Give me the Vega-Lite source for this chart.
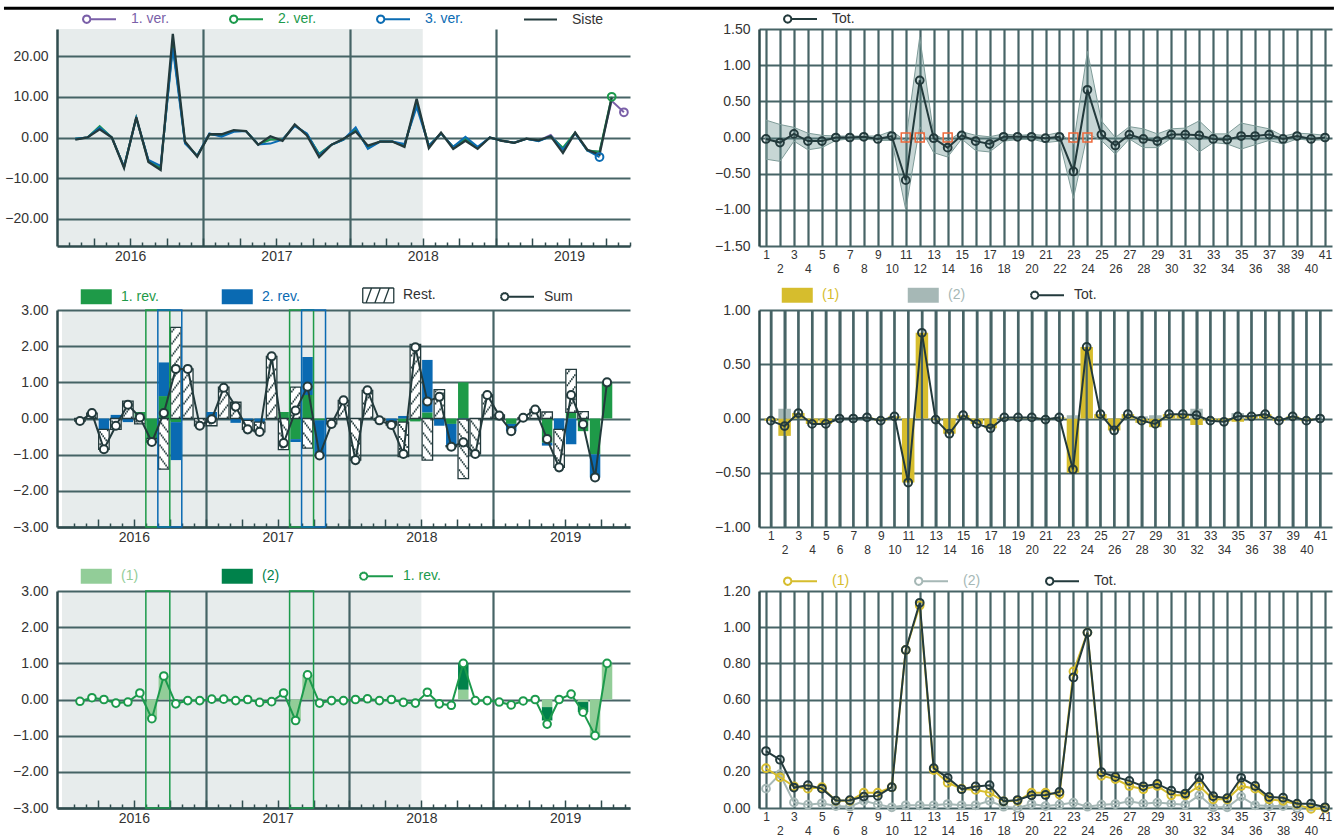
{
"$schema": "https://vega.github.io/schema/vega-lite/v6.json",
"padding": {"left": 2, "top": 6, "right": 0, "bottom": 0},
"autosize": {"type": "pad"},
"bounds": "flush",
"columns": 2,
"spacing": {"row": 64, "column": 129},
"resolve": {"scale": {"x": "independent", "y": "independent", "color": "independent"}},
"config": {
  "view": {"stroke": null},
  "font": "Liberation Sans",
  "axis": {"labelFont": "Liberation Sans", "labelFontSize": 14, "labelColor": "#333333", "gridColor": "#476466", "gridWidth": 2.2, "gridOpacity": 1, "domainColor": "#2f4b4d", "domainWidth": 2.5, "tickColor": "#2f4b4d"},
  "legend": {"labelFont": "Liberation Sans", "labelFontSize": 14, "labelColor": "#333333", "symbolStrokeWidth": 2}
},
"datasets": {
  "shade": [{"x0": 0.5, "x1": 30.5}],
  "hl": [{"x0": 7.5, "x1": 9.5, "k": "1. rev."}, {"x0": 8.5, "x1": 10.5, "k": "2. rev."}, {"x0": 19.5, "x1": 21.5, "k": "1. rev."}, {"x0": 20.5, "x1": 22.5, "k": "2. rev."}],
  "tl": [
    {"m":2,"v1":-0.3,"v2":-0.3,"v3":-0.3,"vs":-0.5},
    {"m":3,"v1":0,"v2":0,"v3":0,"vs":0},
    {"m":4,"v1":2.5,"v2":2.8,"v3":2.5,"vs":2.0},
    {"m":5,"v1":0,"v2":0,"v3":0,"vs":0},
    {"m":6,"v1":-7.2,"v2":-7.2,"v3":-7.2,"vs":-7.5},
    {"m":7,"v1":4.8,"v2":4.8,"v3":4.8,"vs":5.0},
    {"m":8,"v1":-5.8,"v2":-5.8,"v3":-5.5,"vs":-6.0},
    {"m":9,"v1":-7.5,"v2":-7.5,"v3":-7.0,"vs":-8.0},
    {"m":10,"v1":23,"v2":23,"v3":22,"vs":25.5},
    {"m":11,"v1":-1.2,"v2":-1.2,"v3":-1.5,"vs":-1.0},
    {"m":12,"v1":-4.5,"v2":-4.5,"v3":-4.5,"vs":-4.7},
    {"m":13,"v1":0.8,"v2":0.8,"v3":1.0,"vs":0.8},
    {"m":14,"v1":0.5,"v2":0.5,"v3":0.2,"vs":0.8},
    {"m":15,"v1":1.6,"v2":1.6,"v3":1.4,"vs":1.8},
    {"m":16,"v1":1.6,"v2":1.6,"v3":1.6,"vs":1.6},
    {"m":17,"v1":-1.7,"v2":-1.7,"v3":-1.7,"vs":-1.8},
    {"m":18,"v1":-0.5,"v2":-0.5,"v3":-1.5,"vs":0.3},
    {"m":19,"v1":-0.5,"v2":-0.5,"v3":-0.5,"vs":-0.8},
    {"m":20,"v1":3.0,"v2":3.0,"v3":2.8,"vs":3.2},
    {"m":21,"v1":0.8,"v2":0.8,"v3":1.0,"vs":0.5},
    {"m":22,"v1":-4.2,"v2":-4.0,"v3":-4.3,"vs":-4.8},
    {"m":23,"v1":-1.8,"v2":-1.8,"v3":-1.8,"vs":-1.8},
    {"m":24,"v1":-0.5,"v2":-0.5,"v3":-0.5,"vs":-0.3},
    {"m":25,"v1":2.0,"v2":2.0,"v3":2.5,"vs":1.5},
    {"m":26,"v1":-2.5,"v2":-2.5,"v3":-2.8,"vs":-2.0},
    {"m":27,"v1":-1.0,"v2":-1.0,"v3":-1.0,"vs":-1.0},
    {"m":28,"v1":-1.0,"v2":-1.0,"v3":-1.0,"vs":-1.0},
    {"m":29,"v1":-2.0,"v2":-2.0,"v3":-1.6,"vs":-2.3},
    {"m":30,"v1":8.5,"v2":8.5,"v3":7.5,"vs":9.5},
    {"m":31,"v1":-2.0,"v2":-2.0,"v3":-2.0,"vs":-2.6},
    {"m":32,"v1":1.0,"v2":1.0,"v3":1.0,"vs":1.2},
    {"m":33,"v1":-2.3,"v2":-2.3,"v3":-2.3,"vs":-2.8},
    {"m":34,"v1":-0.5,"v2":-0.3,"v3":0.2,"vs":-0.8},
    {"m":35,"v1":-2.5,"v2":-2.5,"v3":-2.3,"vs":-2.8},
    {"m":36,"v1":0,"v2":0,"v3":0,"vs":0},
    {"m":37,"v1":-0.8,"v2":-0.8,"v3":-0.8,"vs":-0.8},
    {"m":38,"v1":-1.3,"v2":-1.3,"v3":-1.3,"vs":-1.3},
    {"m":39,"v1":-0.3,"v2":-0.3,"v3":-0.3,"vs":-0.3},
    {"m":40,"v1":-0.8,"v2":-0.8,"v3":-0.9,"vs":-0.7},
    {"m":41,"v1":0.6,"v2":0.3,"v3":0.3,"vs":0.3},
    {"m":42,"v1":-2.8,"v2":-2.5,"v3":-3.0,"vs":-3.8},
    {"m":43,"v1":1.2,"v2":1.2,"v3":1.0,"vs":1.2},
    {"m":44,"v1":-3.2,"v2":-3.2,"v3":-3.2,"vs":-3.0},
    {"m":45,"v1":-3.5,"v2":-3.5,"v3":-4.8,"vs":-4.2},
    {"m":46,"v1":9.0,"v2":10.0,"v3":null,"vs":9.8},
    {"m":47,"v1":6.2,"v2":null,"v3":null,"vs":null}
  ],
  "ml": [
    {"m":2,"c":"Rest.","v":-0.07},
    {"m":3,"c":"Rest.","v":0.15},
    {"m":4,"c":"2. rev.","v":-0.3},{"m":4,"c":"Rest.","v":-0.55},
    {"m":5,"c":"2. rev.","v":0.1},{"m":5,"c":"Rest.","v":-0.3},
    {"m":6,"c":"2. rev.","v":-0.1},{"m":6,"c":"Rest.","v":0.48},
    {"m":7,"c":"1. rev.","v":0.18},{"m":7,"c":"Rest.","v":-0.15},
    {"m":8,"c":"1. rev.","v":-0.55},{"m":8,"c":"Rest.","v":-0.1},
    {"m":9,"c":"1. rev.","v":0.62},{"m":9,"c":"2. rev.","v":0.93},{"m":9,"c":"Rest.","v":-1.4},
    {"m":10,"c":"1. rev.","v":-0.1},{"m":10,"c":"2. rev.","v":-1.05},{"m":10,"c":"Rest.","v":2.52},
    {"m":11,"c":"Rest.","v":1.37},
    {"m":12,"c":"Rest.","v":-0.2},
    {"m":13,"c":"2. rev.","v":0.18},{"m":13,"c":"Rest.","v":-0.2},
    {"m":14,"c":"2. rev.","v":-0.02},{"m":14,"c":"Rest.","v":0.87},
    {"m":15,"c":"2. rev.","v":-0.12},{"m":15,"c":"Rest.","v":0.45},
    {"m":16,"c":"2. rev.","v":-0.05},{"m":16,"c":"Rest.","v":-0.25},
    {"m":17,"c":"2. rev.","v":-0.1},{"m":17,"c":"Rest.","v":-0.27},
    {"m":18,"c":"Rest.","v":1.72},
    {"m":19,"c":"1. rev.","v":0.18},{"m":19,"c":"Rest.","v":-0.86},
    {"m":20,"c":"1. rev.","v":-0.57},{"m":20,"c":"2. rev.","v":-0.08},{"m":20,"c":"Rest.","v":0.87},
    {"m":21,"c":"1. rev.","v":0.65},{"m":21,"c":"2. rev.","v":1.05},{"m":21,"c":"Rest.","v":-0.82},
    {"m":22,"c":"1. rev.","v":-0.05},{"m":22,"c":"2. rev.","v":-0.97},
    {"m":23,"c":"Rest.","v":-0.15},
    {"m":24,"c":"Rest.","v":0.5},
    {"m":25,"c":"Rest.","v":-1.15},
    {"m":26,"c":"Rest.","v":0.78},
    {"m":27,"c":"Rest.","v":-0.05},
    {"m":28,"c":"2. rev.","v":-0.08},{"m":28,"c":"Rest.","v":-0.1},
    {"m":29,"c":"1. rev.","v":-0.1},{"m":29,"c":"2. rev.","v":0.07},{"m":29,"c":"Rest.","v":-0.95},
    {"m":30,"c":"1. rev.","v":-0.08},{"m":30,"c":"Rest.","v":2.05},
    {"m":31,"c":"1. rev.","v":0.17},{"m":31,"c":"2. rev.","v":1.45},{"m":31,"c":"Rest.","v":-1.15},
    {"m":32,"c":"2. rev.","v":-0.2},{"m":32,"c":"Rest.","v":0.8},
    {"m":33,"c":"1. rev.","v":-0.15},{"m":33,"c":"2. rev.","v":-0.6},{"m":33,"c":"Rest.","v":-0.03},
    {"m":34,"c":"1. rev.","v":1.0},{"m":34,"c":"2. rev.","v":-0.02},{"m":34,"c":"Rest.","v":-1.64},
    {"m":35,"c":"Rest.","v":-0.98},
    {"m":36,"c":"Rest.","v":0.65},
    {"m":37,"c":"1. rev.","v":-0.02},{"m":37,"c":"Rest.","v":0.1},
    {"m":38,"c":"1. rev.","v":-0.15},{"m":38,"c":"2. rev.","v":-0.2},
    {"m":39,"c":"Rest.","v":0.02},
    {"m":40,"c":"Rest.","v":0.25},
    {"m":41,"c":"1. rev.","v":-0.67},{"m":41,"c":"2. rev.","v":-0.08},{"m":41,"c":"Rest.","v":0.18},
    {"m":42,"c":"2. rev.","v":-0.3},{"m":42,"c":"Rest.","v":-1.05},
    {"m":43,"c":"1. rev.","v":0.17},{"m":43,"c":"2. rev.","v":-0.71},{"m":43,"c":"Rest.","v":1.19},
    {"m":44,"c":"1. rev.","v":-0.35},{"m":44,"c":"Rest.","v":0.19},
    {"m":45,"c":"1. rev.","v":-0.99},{"m":45,"c":"2. rev.","v":-0.64},
    {"m":46,"c":"1. rev.","v":1.0}
  ],
  "mlsum": [
    {"m":2,"v":-0.07},{"m":3,"v":0.15},{"m":4,"v":-0.85},{"m":5,"v":-0.2},{"m":6,"v":0.38},
    {"m":7,"v":0.03},{"m":8,"v":-0.65},{"m":9,"v":0.15},{"m":10,"v":1.37},{"m":11,"v":1.37},
    {"m":12,"v":-0.2},{"m":13,"v":-0.02},{"m":14,"v":0.85},{"m":15,"v":0.33},{"m":16,"v":-0.3},
    {"m":17,"v":-0.37},{"m":18,"v":1.72},{"m":19,"v":-0.68},{"m":20,"v":0.22},{"m":21,"v":0.88},
    {"m":22,"v":-1.02},{"m":23,"v":-0.15},{"m":24,"v":0.5},{"m":25,"v":-1.15},{"m":26,"v":0.78},
    {"m":27,"v":-0.05},{"m":28,"v":-0.18},{"m":29,"v":-0.98},{"m":30,"v":1.97},{"m":31,"v":0.47},
    {"m":32,"v":0.6},{"m":33,"v":-0.78},{"m":34,"v":-0.66},{"m":35,"v":-0.98},{"m":36,"v":0.65},
    {"m":37,"v":0.08},{"m":38,"v":-0.35},{"m":39,"v":0.02},{"m":40,"v":0.25},{"m":41,"v":-0.57},
    {"m":42,"v":-1.35},{"m":43,"v":0.65},{"m":44,"v":-0.16},{"m":45,"v":-1.63},{"m":46,"v":1.0}
  ],
  "bl": [
    {"m":2,"v":-0.05},{"m":3,"v":0.05},{"m":4,"v":0.0},{"m":5,"v":-0.1},{"m":6,"v":-0.07},
    {"m":7,"v":0.18},{"m":8,"v":-0.53},{"m":9,"v":0.65},{"m":10,"v":-0.12},{"m":11,"v":-0.03},
    {"m":12,"v":-0.03},{"m":13,"v":0.01},{"m":14,"v":0.01},{"m":15,"v":-0.03},{"m":16,"v":0.0},
    {"m":17,"v":-0.08},{"m":18,"v":-0.06},{"m":19,"v":0.18},{"m":20,"v":-0.58},{"m":21,"v":0.68},
    {"m":22,"v":-0.1},{"m":23,"v":-0.03},{"m":24,"v":-0.03},{"m":25,"v":0.0},{"m":26,"v":0.02},
    {"m":27,"v":-0.03},{"m":28,"v":0.0},{"m":29,"v":-0.08},{"m":30,"v":-0.1},{"m":31,"v":0.2},
    {"m":32,"v":-0.12},{"m":33,"v":-0.16},{"m":34,"v":1.0},{"m":35,"v":-0.03},{"m":36,"v":-0.03},
    {"m":37,"v":-0.07},{"m":38,"v":-0.15},{"m":39,"v":-0.04},{"m":40,"v":0.0},{"m":41,"v":-0.68},
    {"m":42,"v":0.0},{"m":43,"v":0.15},{"m":44,"v":-0.35},{"m":45,"v":-1.0},{"m":46,"v":1.0}
  ],
  "blb": [
    {"m":8,"c":"(1)","v":-0.53},{"m":9,"c":"(1)","v":0.65},
    {"m":20,"c":"(1)","v":-0.58},{"m":21,"c":"(1)","v":0.68},
    {"m":34,"c":"(1)","v":0.27},{"m":34,"c":"(2)","v":0.73},
    {"m":41,"c":"(1)","v":-0.21},{"m":41,"c":"(2)","v":-0.37},
    {"m":44,"c":"(1)","v":-0.07},{"m":44,"c":"(2)","v":-0.28},
    {"m":45,"c":"(1)","v":-1.0},{"m":46,"c":"(1)","v":1.0}
  ],
  "rt": [
    {"p":1,"tot":-0.02,"lo":-0.30,"hi":0.24},
    {"p":2,"tot":-0.07,"lo":-0.33,"hi":0.18},
    {"p":3,"tot":0.05,"lo":-0.05,"hi":0.14},
    {"p":4,"tot":-0.05,"lo":-0.17,"hi":0.06},
    {"p":5,"tot":-0.05,"lo":-0.14,"hi":0.03},
    {"p":6,"tot":0.0,"lo":-0.04,"hi":0.02},
    {"p":7,"tot":0.0,"lo":-0.02,"hi":0.02},
    {"p":8,"tot":0.01,"lo":-0.02,"hi":0.02},
    {"p":9,"tot":-0.02,"lo":-0.04,"hi":0.02},
    {"p":10,"tot":0.02,"lo":-0.04,"hi":0.09},
    {"p":11,"tot":-0.59,"lo":-1.0,"hi":-0.05,"q":1},
    {"p":12,"tot":0.79,"lo":0.15,"hi":1.39,"q":1},
    {"p":13,"tot":-0.01,"lo":-0.21,"hi":0.05},
    {"p":14,"tot":-0.14,"lo":-0.27,"hi":-0.05,"q":1},
    {"p":15,"tot":0.03,"lo":-0.02,"hi":0.08},
    {"p":16,"tot":-0.05,"lo":-0.18,"hi":0.03},
    {"p":17,"tot":-0.09,"lo":-0.20,"hi":0.01},
    {"p":18,"tot":0.01,"lo":-0.05,"hi":0.05},
    {"p":19,"tot":0.01,"lo":-0.03,"hi":0.03},
    {"p":20,"tot":0.01,"lo":-0.02,"hi":0.04},
    {"p":21,"tot":-0.01,"lo":-0.07,"hi":0.03},
    {"p":22,"tot":0.01,"lo":-0.05,"hi":0.07},
    {"p":23,"tot":-0.47,"lo":-0.84,"hi":-0.09,"q":1},
    {"p":24,"tot":0.66,"lo":0.05,"hi":1.19,"q":1},
    {"p":25,"tot":0.04,"lo":-0.04,"hi":0.23},
    {"p":26,"tot":-0.11,"lo":-0.23,"hi":0.0},
    {"p":27,"tot":0.04,"lo":-0.02,"hi":0.15},
    {"p":28,"tot":-0.02,"lo":-0.14,"hi":0.12},
    {"p":29,"tot":-0.05,"lo":-0.14,"hi":0.05},
    {"p":30,"tot":0.04,"lo":-0.01,"hi":0.12},
    {"p":31,"tot":0.04,"lo":-0.04,"hi":0.13},
    {"p":32,"tot":0.03,"lo":-0.20,"hi":0.23},
    {"p":33,"tot":-0.02,"lo":-0.07,"hi":0.05},
    {"p":34,"tot":-0.03,"lo":-0.09,"hi":0.05},
    {"p":35,"tot":0.02,"lo":-0.16,"hi":0.20},
    {"p":36,"tot":0.02,"lo":-0.10,"hi":0.16},
    {"p":37,"tot":0.04,"lo":-0.04,"hi":0.12},
    {"p":38,"tot":-0.02,"lo":-0.09,"hi":0.02},
    {"p":39,"tot":0.02,"lo":-0.02,"hi":0.06},
    {"p":40,"tot":-0.02,"lo":-0.04,"hi":0.05},
    {"p":41,"tot":0.0,"lo":-0.03,"hi":0.03}
  ],
  "rm": [
    {"p":1,"c":"(1)","v":-0.02},{"p":2,"c":"(1)","v":-0.16},{"p":2,"c":"(2)","v":0.09},
    {"p":3,"c":"(1)","v":0.05},{"p":4,"c":"(1)","v":-0.05},{"p":5,"c":"(1)","v":-0.05},
    {"p":8,"c":"(1)","v":0.01},{"p":9,"c":"(1)","v":-0.02},{"p":10,"c":"(1)","v":0.02},
    {"p":11,"c":"(1)","v":-0.59},{"p":12,"c":"(1)","v":0.79},{"p":13,"c":"(1)","v":-0.01},
    {"p":14,"c":"(1)","v":-0.14},{"p":15,"c":"(1)","v":0.03},{"p":16,"c":"(1)","v":-0.05},
    {"p":17,"c":"(1)","v":-0.09},{"p":18,"c":"(1)","v":0.01},{"p":19,"c":"(1)","v":0.01},
    {"p":20,"c":"(1)","v":0.01},{"p":21,"c":"(1)","v":-0.01},{"p":22,"c":"(1)","v":0.01},
    {"p":23,"c":"(1)","v":-0.5},{"p":23,"c":"(2)","v":0.03},{"p":24,"c":"(1)","v":0.66},
    {"p":25,"c":"(1)","v":0.04},{"p":26,"c":"(1)","v":-0.11},{"p":27,"c":"(1)","v":0.04},
    {"p":28,"c":"(1)","v":-0.04},{"p":28,"c":"(2)","v":0.02},{"p":29,"c":"(1)","v":-0.08},
    {"p":29,"c":"(2)","v":0.03},{"p":30,"c":"(1)","v":0.04},{"p":31,"c":"(1)","v":0.04},
    {"p":32,"c":"(1)","v":-0.06},{"p":32,"c":"(2)","v":0.09},{"p":33,"c":"(1)","v":-0.02},
    {"p":34,"c":"(1)","v":-0.03},{"p":35,"c":"(1)","v":-0.03},{"p":35,"c":"(2)","v":0.05},
    {"p":36,"c":"(1)","v":0.02},{"p":37,"c":"(1)","v":0.04},{"p":38,"c":"(1)","v":-0.02},
    {"p":39,"c":"(1)","v":0.02},{"p":40,"c":"(1)","v":-0.02}
  ],
  "rb": [
    {"p":1,"a":0.22,"b":0.107,"tot":0.315},
    {"p":2,"a":0.17,"b":0.187,"tot":0.267},
    {"p":3,"a":0.12,"b":0.031,"tot":0.113},
    {"p":4,"a":0.107,"b":0.018,"tot":0.126},
    {"p":5,"a":0.115,"b":0.026,"tot":0.107},
    {"p":6,"a":0.04,"b":0.011,"tot":0.041},
    {"p":7,"a":0.04,"b":0.007,"tot":0.043},
    {"p":8,"a":0.085,"b":0.04,"tot":0.063},
    {"p":9,"a":0.085,"b":0.02,"tot":0.067},
    {"p":10,"a":0.115,"b":0.004,"tot":0.115},
    {"p":11,"a":0.874,"b":0.015,"tot":0.874},
    {"p":12,"a":1.12,"b":0.015,"tot":1.135},
    {"p":13,"a":0.21,"b":0.015,"tot":0.22},
    {"p":14,"a":0.14,"b":0.022,"tot":0.167},
    {"p":15,"a":0.107,"b":0.015,"tot":0.104},
    {"p":16,"a":0.1,"b":0.015,"tot":0.119},
    {"p":17,"a":0.085,"b":0.04,"tot":0.126},
    {"p":18,"a":0.037,"b":0.007,"tot":0.037},
    {"p":19,"a":0.04,"b":0.0,"tot":0.044},
    {"p":20,"a":0.085,"b":0.022,"tot":0.07},
    {"p":21,"a":0.085,"b":0.011,"tot":0.072},
    {"p":22,"a":0.074,"b":0.018,"tot":0.089},
    {"p":23,"a":0.755,"b":0.03,"tot":0.722},
    {"p":24,"a":0.97,"b":0.007,"tot":0.97},
    {"p":25,"a":0.178,"b":0.018,"tot":0.198},
    {"p":26,"a":0.16,"b":0.022,"tot":0.172},
    {"p":27,"a":0.122,"b":0.037,"tot":0.15},
    {"p":28,"a":0.104,"b":0.024,"tot":0.12},
    {"p":29,"a":0.122,"b":0.03,"tot":0.133},
    {"p":30,"a":0.07,"b":0.024,"tot":0.096},
    {"p":31,"a":0.07,"b":0.018,"tot":0.08},
    {"p":32,"a":0.122,"b":0.07,"tot":0.17},
    {"p":33,"a":0.048,"b":0.004,"tot":0.065},
    {"p":34,"a":0.048,"b":0.004,"tot":0.054},
    {"p":35,"a":0.122,"b":0.063,"tot":0.167},
    {"p":36,"a":0.107,"b":0.015,"tot":0.122},
    {"p":37,"a":0.048,"b":0.011,"tot":0.061},
    {"p":38,"a":0.04,"b":0.011,"tot":0.057},
    {"p":39,"a":0.02,"b":0.0,"tot":0.024},
    {"p":40,"a":-0.005,"b":0.007,"tot":0.024},
    {"p":41,"a":0.0,"b":0.0,"tot":0.004}
  ]
},
"concat": [
  {
    "width": 573, "height": 217,
    "layer": [
      {"data": {"name": "shade"}, "mark": {"type": "rect", "fill": "#3a6660", "opacity": 0.12},
       "encoding": {
         "x": {"field": "x0", "type": "quantitative", "scale": {"domain": [0.5, 47.5], "nice": false, "zero": false},
               "axis": {"values": [1.5,2.5,3.5,4.5,5.5,6.5,7.5,8.5,9.5,10.5,11.5,12.5,13.5,14.5,15.5,16.5,17.5,18.5,19.5,20.5,21.5,22.5,23.5,24.5,25.5,26.5,27.5,28.5,29.5,30.5,31.5,32.5,33.5,34.5,35.5,36.5,37.5,38.5,39.5,40.5,41.5,42.5,43.5,44.5,45.5,46.5,47.5],
                        "tickCount": 100, "title": null, "grid": true,
                        "gridOpacity": {"condition": {"test": "(datum.value - 0.5) % 12 === 0", "value": 1}, "value": 0},
                        "ticks": true, "tickWidth": 1.5, "tickColor": "#2f4b4d",
                        "tickSize": {"condition": {"test": "(datum.value - 0.5) % 3 === 0", "value": -8}, "value": -4},
                        "labelExpr": "(datum.value - 0.5) % 12 === 6 ? '' + (2016 + (datum.value - 6.5) / 12) : ''",
                        "labelPadding": 11, "labelOverlap": false, "labelFlush": false, "domain": true}},
         "x2": {"field": "x1"}}},
      {"data": {"values": [{}]}, "mark": {"type": "rule", "color": "#000000", "strokeWidth": 3},
       "encoding": {"x": {"datum": -3.85, "type": "quantitative"}, "x2": {"datum": 105.24}, "y": {"datum": 31.76, "type": "quantitative"}}},
      {"data": {"name": "tl"}, "mark": {"type": "line", "strokeWidth": 2},
       "encoding": {
         "x": {"field": "m", "type": "quantitative"},
         "y": {"field": "v1", "type": "quantitative", "scale": {"domain": [-26.67, 26.67], "nice": false, "zero": false},
               "axis": {"values": [-20, -10, 0, 10, 20], "tickCount": 100, "format": ".2f", "title": null, "grid": true, "ticks": false, "tickSize": 0, "labelPadding": 9, "labelOverlap": false, "domain": true}},
         "color": {"datum": "1. ver.", "scale": {"domain": ["1. ver.", "2. ver.", "3. ver.", "Siste"], "range": ["#7a5fa8", "#1c9a4c", "#0b6cb3", "#233a3c"]},
                   "legend": {"orient": "none", "legendX": 25, "legendY": -22, "direction": "horizontal", "title": null, "symbolSize": 484, "labelOffset": 25, "columnPadding": 56, "gridAlign": "all",
                              "encode": {
                                "symbols": {"update": {
                                  "shape": {"signal": "datum.value === 'Siste' ? 'M-1,0L2,0' : 'M-0.328,0L-0.373,0.168L-0.496,0.291L-0.664,0.336L-0.832,0.291L-0.955,0.168L-1,0L-0.955,-0.168L-0.832,-0.291L-0.664,-0.336L-0.496,-0.291L-0.373,-0.168ZM-0.328,0L2,0'"},
                                  "strokeWidth": {"value": 2}, "size": {"value": 484}, "opacity": {"value": 1}}},
                                "labels": {"update": {"fill": {"signal": "datum.value === '1. ver.' ? '#7a5fa8' : datum.value === '2. ver.' ? '#1c9a4c' : datum.value === '3. ver.' ? '#0b6cb3' : '#333333'"}}}}}}}},
      {"data": {"name": "tl"}, "mark": {"type": "line", "strokeWidth": 2},
       "encoding": {"x": {"field": "m", "type": "quantitative"}, "y": {"field": "v2", "type": "quantitative"}, "color": {"datum": "2. ver."}}},
      {"data": {"name": "tl"}, "mark": {"type": "line", "strokeWidth": 2},
       "encoding": {"x": {"field": "m", "type": "quantitative"}, "y": {"field": "v3", "type": "quantitative"}, "color": {"datum": "3. ver."}}},
      {"data": {"name": "tl"}, "mark": {"type": "line", "strokeWidth": 2.3},
       "encoding": {"x": {"field": "m", "type": "quantitative"}, "y": {"field": "vs", "type": "quantitative"}, "color": {"datum": "Siste"}}},
      {"data": {"name": "tl"}, "transform": [{"filter": "datum.m === 47"}], "mark": {"type": "point", "filled": false, "strokeWidth": 2, "size": 60, "opacity": 1},
       "encoding": {"x": {"field": "m", "type": "quantitative"}, "y": {"field": "v1", "type": "quantitative"}, "color": {"datum": "1. ver."}}},
      {"data": {"name": "tl"}, "transform": [{"filter": "datum.m === 46"}], "mark": {"type": "point", "filled": false, "strokeWidth": 2, "size": 60, "opacity": 1},
       "encoding": {"x": {"field": "m", "type": "quantitative"}, "y": {"field": "v2", "type": "quantitative"}, "color": {"datum": "2. ver."}}},
      {"data": {"name": "tl"}, "transform": [{"filter": "datum.m === 45"}], "mark": {"type": "point", "filled": false, "strokeWidth": 2, "size": 60, "opacity": 1},
       "encoding": {"x": {"field": "m", "type": "quantitative"}, "y": {"field": "v3", "type": "quantitative"}, "color": {"datum": "3. ver."}}}
    ]
  },
  {
    "width": 573, "height": 217,
    "data": {"name": "rt"},
    "layer": [
      {"mark": {"type": "area", "fill": "#5f8a86", "fillOpacity": 0.35, "stroke": "#7f9c99", "strokeWidth": 1},
       "encoding": {
         "x": {"field": "p", "type": "quantitative", "scale": {"domain": [0.5, 41.5], "nice": false, "zero": false},
               "axis": {"values": [1,2,3,4,5,6,7,8,9,10,11,12,13,14,15,16,17,18,19,20,21,22,23,24,25,26,27,28,29,30,31,32,33,34,35,36,37,38,39,40,41],
                        "tickCount": 100, "format": "d", "title": null, "grid": true, "ticks": false, "tickSize": 0, "labelFontSize": 12,
                        "labelPadding": {"condition": {"test": "datum.value % 2 === 0", "value": 17}, "value": 3},
                        "labelOverlap": false, "labelFlush": false, "domain": false}},
         "y": {"field": "lo", "type": "quantitative", "scale": {"domain": [-1.5, 1.5], "nice": false, "zero": false},
               "axis": {"values": [-1.5, -1, -0.5, 0, 0.5, 1, 1.5], "tickCount": 100, "format": ".2f", "title": null, "grid": true, "ticks": false, "tickSize": 0, "labelPadding": 9, "labelOverlap": false, "domain": true}},
         "y2": {"field": "hi"}}},
      {"transform": [{"filter": "datum.q === 1"}], "mark": {"type": "point", "shape": "square", "filled": false, "stroke": "#f0683a", "strokeWidth": 1.5, "size": 80, "opacity": 1},
       "encoding": {"x": {"field": "p", "type": "quantitative"}, "y": {"datum": 0, "type": "quantitative"}}},
      {"mark": {"type": "line", "strokeWidth": 2},
       "encoding": {"x": {"field": "p", "type": "quantitative"}, "y": {"field": "tot", "type": "quantitative"},
         "color": {"datum": "Tot.", "scale": {"domain": ["Tot."], "range": ["#233a3c"]},
                   "legend": {"orient": "none", "legendX": 24, "legendY": -22, "direction": "horizontal", "title": null, "symbolSize": 484, "labelOffset": 25, "columnPadding": 56, "gridAlign": "all",
                              "encode": {
                                "symbols": {"update": {
                                  "shape": {"value": "M-0.328,0L-0.373,0.168L-0.496,0.291L-0.664,0.336L-0.832,0.291L-0.955,0.168L-1,0L-0.955,-0.168L-0.832,-0.291L-0.664,-0.336L-0.496,-0.291L-0.373,-0.168ZM-0.328,0L2,0"},
                                  "strokeWidth": {"value": 2}, "size": {"value": 484}, "opacity": {"value": 1}}},
                                "labels": {"update": {"fill": {"value": "#333333"}}}}}}}},
      {"mark": {"type": "point", "filled": false, "stroke": "#233a3c", "strokeWidth": 2, "size": 60, "opacity": 1},
       "encoding": {"x": {"field": "p", "type": "quantitative"}, "y": {"field": "tot", "type": "quantitative"}}}
    ]
  },
  {
    "width": 573, "height": 217,
    "layer": [
      {"data": {"name": "shade"}, "mark": {"type": "rect", "fill": "#3a6660", "opacity": 0.12},
       "encoding": {
         "x": {"field": "x0", "type": "quantitative", "scale": {"domain": [0.5, 47.5], "nice": false, "zero": false},
               "axis": {"values": [1.5,2.5,3.5,4.5,5.5,6.5,7.5,8.5,9.5,10.5,11.5,12.5,13.5,14.5,15.5,16.5,17.5,18.5,19.5,20.5,21.5,22.5,23.5,24.5,25.5,26.5,27.5,28.5,29.5,30.5,31.5,32.5,33.5,34.5,35.5,36.5,37.5,38.5,39.5,40.5,41.5,42.5,43.5,44.5,45.5,46.5,47.5],
                        "tickCount": 100, "title": null, "grid": true,
                        "gridOpacity": {"condition": {"test": "(datum.value - 0.5) % 12 === 0", "value": 1}, "value": 0},
                        "ticks": true, "tickWidth": 1.5, "tickColor": "#2f4b4d",
                        "tickSize": {"condition": {"test": "(datum.value - 0.5) % 3 === 0", "value": -8}, "value": -4},
                        "labelExpr": "(datum.value - 0.5) % 12 === 6 ? '' + (2016 + (datum.value - 6.5) / 12) : ''",
                        "labelPadding": 11, "labelOverlap": false, "labelFlush": false, "domain": true}},
         "x2": {"field": "x1"}}},
      {"data": {"name": "ml"},
       "transform": [{"stack": "v", "groupby": ["m"], "sort": [{"field": "c", "order": "ascending"}], "as": ["y0", "y1"], "offset": "zero"}, {"filter": "datum.c !== 'Rest.'"}],
       "mark": {"type": "bar", "width": 10.5},
       "encoding": {
         "x": {"field": "m", "type": "quantitative"},
         "y": {"field": "y0", "type": "quantitative", "scale": {"domain": [-3, 3], "nice": false, "zero": false},
               "axis": {"values": [-3, -2, -1, 0, 1, 2, 3], "tickCount": 100, "format": ".2f", "title": null, "grid": true, "ticks": false, "tickSize": 0, "labelPadding": 9, "labelOverlap": false, "domain": true}},
         "y2": {"field": "y1"},
         "color": {"field": "c", "type": "nominal", "scale": {"domain": ["1. rev.", "2. rev.", "Rest.", "Sum"], "range": ["#1e9a48", "#0a6ab2", "#233a3c", "#233a3c"]},
                   "legend": {"orient": "none", "legendX": 25, "legendY": -22, "direction": "horizontal", "title": null, "symbolSize": 484, "labelOffset": 25, "columnPadding": 56, "gridAlign": "all",
                              "encode": {
                                "symbols": {"update": {
                                  "shape": {"signal": "datum.value === 'Sum' ? 'M-0.328,0L-0.373,0.168M-0.373,0.168L-0.496,0.291M-0.496,0.291L-0.664,0.336M-0.664,0.336L-0.832,0.291M-0.832,0.291L-0.955,0.168M-0.955,0.168L-1,0M-1,0L-0.955,-0.168M-0.955,-0.168L-0.832,-0.291M-0.832,-0.291L-0.664,-0.336M-0.664,-0.336L-0.496,-0.291M-0.496,-0.291L-0.373,-0.168M-0.373,-0.168L-0.328,0M-0.328,0L2,0' : datum.value === 'Rest.' ? 'M-0.75,-0.68L2.07,-0.68M2.07,-0.68L2.07,0.68M2.07,0.68L-0.75,0.68M-0.75,0.68L-0.75,-0.68M-0.45,0.68L0.05,-0.68M0.35,0.68L0.85,-0.68M1.15,0.68L1.65,-0.68' : 'M-0.75,-0.68L2.07,-0.68L2.07,0.68L-0.75,0.68Z'"},
                                  "strokeWidth": {"signal": "datum.value === 'Rest.' ? 1.3 : datum.value === 'Sum' ? 2 : 0"},
                                  "size": {"value": 484}, "opacity": {"value": 1}}},
                                "labels": {"update": {"fill": {"signal": "datum.value === '1. rev.' ? '#1e9a48' : datum.value === '2. rev.' ? '#0a6ab2' : '#333333'"}}}}}}}},
      {"data": {"name": "ml"},
       "transform": [{"stack": "v", "groupby": ["m"], "sort": [{"field": "c", "order": "ascending"}], "as": ["y0", "y1"], "offset": "zero"}, {"filter": "datum.c === 'Rest.'"}],
       "mark": {"type": "bar", "width": 10.5, "fill": "#ffffff", "stroke": "#233a3c", "strokeWidth": 1.3},
       "encoding": {"x": {"field": "m", "type": "quantitative"}, "y": {"field": "y0", "type": "quantitative"}, "y2": {"field": "y1"}}},
      {"data": {"name": "ml"},
       "transform": [{"stack": "v", "groupby": ["m"], "sort": [{"field": "c", "order": "ascending"}], "as": ["y0", "y1"], "offset": "zero"}, {"filter": "datum.c === 'Rest.'"}],
       "mark": {"type": "rule", "color": "#233a3c", "strokeWidth": 1.5, "strokeDash": [2, 10], "strokeDashOffset": 10, "xOffset": -3.75},
       "encoding": {"x": {"field": "m", "type": "quantitative"}, "y": {"field": "y0", "type": "quantitative"}, "y2": {"field": "y1"}}},
      {"data": {"name": "ml"},
       "transform": [{"stack": "v", "groupby": ["m"], "sort": [{"field": "c", "order": "ascending"}], "as": ["y0", "y1"], "offset": "zero"}, {"filter": "datum.c === 'Rest.'"}],
       "mark": {"type": "rule", "color": "#233a3c", "strokeWidth": 1.5, "strokeDash": [2, 10], "strokeDashOffset": 8, "xOffset": -2.25},
       "encoding": {"x": {"field": "m", "type": "quantitative"}, "y": {"field": "y0", "type": "quantitative"}, "y2": {"field": "y1"}}},
      {"data": {"name": "ml"},
       "transform": [{"stack": "v", "groupby": ["m"], "sort": [{"field": "c", "order": "ascending"}], "as": ["y0", "y1"], "offset": "zero"}, {"filter": "datum.c === 'Rest.'"}],
       "mark": {"type": "rule", "color": "#233a3c", "strokeWidth": 1.5, "strokeDash": [2, 10], "strokeDashOffset": 6, "xOffset": -0.75},
       "encoding": {"x": {"field": "m", "type": "quantitative"}, "y": {"field": "y0", "type": "quantitative"}, "y2": {"field": "y1"}}},
      {"data": {"name": "ml"},
       "transform": [{"stack": "v", "groupby": ["m"], "sort": [{"field": "c", "order": "ascending"}], "as": ["y0", "y1"], "offset": "zero"}, {"filter": "datum.c === 'Rest.'"}],
       "mark": {"type": "rule", "color": "#233a3c", "strokeWidth": 1.5, "strokeDash": [2, 10], "strokeDashOffset": 4, "xOffset": 0.75},
       "encoding": {"x": {"field": "m", "type": "quantitative"}, "y": {"field": "y0", "type": "quantitative"}, "y2": {"field": "y1"}}},
      {"data": {"name": "ml"},
       "transform": [{"stack": "v", "groupby": ["m"], "sort": [{"field": "c", "order": "ascending"}], "as": ["y0", "y1"], "offset": "zero"}, {"filter": "datum.c === 'Rest.'"}],
       "mark": {"type": "rule", "color": "#233a3c", "strokeWidth": 1.5, "strokeDash": [2, 10], "strokeDashOffset": 2, "xOffset": 2.25},
       "encoding": {"x": {"field": "m", "type": "quantitative"}, "y": {"field": "y0", "type": "quantitative"}, "y2": {"field": "y1"}}},
      {"data": {"name": "ml"},
       "transform": [{"stack": "v", "groupby": ["m"], "sort": [{"field": "c", "order": "ascending"}], "as": ["y0", "y1"], "offset": "zero"}, {"filter": "datum.c === 'Rest.'"}],
       "mark": {"type": "rule", "color": "#233a3c", "strokeWidth": 1.5, "strokeDash": [2, 10], "strokeDashOffset": 0, "xOffset": 3.75},
       "encoding": {"x": {"field": "m", "type": "quantitative"}, "y": {"field": "y0", "type": "quantitative"}, "y2": {"field": "y1"}}},
      {"data": {"name": "hl"}, "mark": {"type": "rect", "filled": false, "strokeWidth": 1.5},
       "encoding": {"x": {"field": "x0", "type": "quantitative"}, "x2": {"field": "x1"}, "color": {"field": "k", "type": "nominal"}}},
      {"data": {"name": "mlsum"}, "mark": {"type": "line", "strokeWidth": 2},
       "encoding": {"x": {"field": "m", "type": "quantitative"}, "y": {"field": "v", "type": "quantitative"}, "color": {"datum": "Sum"}}},
      {"data": {"name": "mlsum"}, "mark": {"type": "point", "filled": true, "fill": "#ffffff", "stroke": "#233a3c", "strokeWidth": 2, "size": 66, "opacity": 1},
       "encoding": {"x": {"field": "m", "type": "quantitative"}, "y": {"field": "v", "type": "quantitative"}}}
    ]
  },
  {
    "width": 573, "height": 217,
    "layer": [
      {"data": {"name": "rm"},
       "transform": [{"stack": "v", "groupby": ["p"], "sort": [{"field": "c", "order": "ascending"}], "as": ["y0", "y1"], "offset": "zero"}],
       "mark": {"type": "bar", "width": 12.5},
       "encoding": {
         "x": {"field": "p", "type": "quantitative", "scale": {"domain": [0.5, 41.5], "nice": false, "zero": false},
               "axis": {"values": [1,2,3,4,5,6,7,8,9,10,11,12,13,14,15,16,17,18,19,20,21,22,23,24,25,26,27,28,29,30,31,32,33,34,35,36,37,38,39,40,41],
                        "tickCount": 100, "format": "d", "title": null, "grid": true, "ticks": false, "tickSize": 0, "labelFontSize": 12,
                        "labelPadding": {"condition": {"test": "datum.value % 2 === 0", "value": 17}, "value": 3},
                        "labelOverlap": false, "labelFlush": false, "domain": false}},
         "y": {"field": "y0", "type": "quantitative", "scale": {"domain": [-1, 1], "nice": false, "zero": false},
               "axis": {"values": [-1, -0.5, 0, 0.5, 1], "tickCount": 100, "format": ".2f", "title": null, "grid": true, "ticks": false, "tickSize": 0, "labelPadding": 9, "labelOverlap": false, "domain": true}},
         "y2": {"field": "y1"},
         "color": {"field": "c", "type": "nominal", "scale": {"domain": ["(1)", "(2)", "Tot."], "range": ["#d6bd2d", "#a6b8b6", "#233a3c"]},
                   "legend": {"orient": "none", "legendX": 24, "legendY": -22, "direction": "horizontal", "title": null, "symbolSize": 484, "labelOffset": 25, "columnPadding": 56, "gridAlign": "all",
                              "encode": {
                                "symbols": {"update": {
                                  "shape": {"signal": "datum.value === 'Tot.' ? 'M-0.328,0L-0.373,0.168M-0.373,0.168L-0.496,0.291M-0.496,0.291L-0.664,0.336M-0.664,0.336L-0.832,0.291M-0.832,0.291L-0.955,0.168M-0.955,0.168L-1,0M-1,0L-0.955,-0.168M-0.955,-0.168L-0.832,-0.291M-0.832,-0.291L-0.664,-0.336M-0.664,-0.336L-0.496,-0.291M-0.496,-0.291L-0.373,-0.168M-0.373,-0.168L-0.328,0M-0.328,0L2,0' : 'M-0.75,-0.68L2.07,-0.68L2.07,0.68L-0.75,0.68Z'"},
                                  "strokeWidth": {"signal": "datum.value === 'Tot.' ? 2 : 0"},
                                  "size": {"value": 484}, "opacity": {"value": 1}}},
                                "labels": {"update": {"fill": {"signal": "datum.value === '(1)' ? '#d6bd2d' : datum.value === '(2)' ? '#a6b8b6' : '#333333'"}}}}}}}},
      {"data": {"name": "rt"}, "mark": {"type": "rule", "color": "#476466", "strokeWidth": 2.2},
       "encoding": {"x": {"field": "p", "type": "quantitative"}}},
      {"data": {"name": "rt"}, "mark": {"type": "line", "strokeWidth": 2},
       "encoding": {"x": {"field": "p", "type": "quantitative"}, "y": {"field": "tot", "type": "quantitative"}, "color": {"datum": "Tot."}}},
      {"data": {"name": "rt"}, "mark": {"type": "point", "filled": false, "stroke": "#233a3c", "strokeWidth": 2, "size": 60, "opacity": 1},
       "encoding": {"x": {"field": "p", "type": "quantitative"}, "y": {"field": "tot", "type": "quantitative"}}}
    ]
  },
  {
    "width": 573, "height": 217,
    "layer": [
      {"data": {"name": "shade"}, "mark": {"type": "rect", "fill": "#3a6660", "opacity": 0.12},
       "encoding": {
         "x": {"field": "x0", "type": "quantitative", "scale": {"domain": [0.5, 47.5], "nice": false, "zero": false},
               "axis": {"values": [1.5,2.5,3.5,4.5,5.5,6.5,7.5,8.5,9.5,10.5,11.5,12.5,13.5,14.5,15.5,16.5,17.5,18.5,19.5,20.5,21.5,22.5,23.5,24.5,25.5,26.5,27.5,28.5,29.5,30.5,31.5,32.5,33.5,34.5,35.5,36.5,37.5,38.5,39.5,40.5,41.5,42.5,43.5,44.5,45.5,46.5,47.5],
                        "tickCount": 100, "title": null, "grid": true,
                        "gridOpacity": {"condition": {"test": "(datum.value - 0.5) % 12 === 0", "value": 1}, "value": 0},
                        "ticks": true, "tickWidth": 1.5, "tickColor": "#2f4b4d",
                        "tickSize": {"condition": {"test": "(datum.value - 0.5) % 3 === 0", "value": -8}, "value": -4},
                        "labelExpr": "(datum.value - 0.5) % 12 === 6 ? '' + (2016 + (datum.value - 6.5) / 12) : ''",
                        "labelPadding": 11, "labelOverlap": false, "labelFlush": false, "domain": true}},
         "x2": {"field": "x1"}}},
      {"data": {"name": "blb"},
       "transform": [{"stack": "v", "groupby": ["m"], "sort": [{"field": "c", "order": "ascending"}], "as": ["y0", "y1"], "offset": "zero"}],
       "mark": {"type": "bar", "width": 10.5},
       "encoding": {
         "x": {"field": "m", "type": "quantitative"},
         "y": {"field": "y0", "type": "quantitative", "scale": {"domain": [-3, 3], "nice": false, "zero": false},
               "axis": {"values": [-3, -2, -1, 0, 1, 2, 3], "tickCount": 100, "format": ".2f", "title": null, "grid": true, "ticks": false, "tickSize": 0, "labelPadding": 9, "labelOverlap": false, "domain": true}},
         "y2": {"field": "y1"},
         "color": {"field": "c", "type": "nominal", "scale": {"domain": ["(1)", "(2)", "1. rev."], "range": ["#92cd98", "#00824b", "#1c9a4c"]},
                   "legend": {"orient": "none", "legendX": 25, "legendY": -22, "direction": "horizontal", "title": null, "symbolSize": 484, "labelOffset": 25, "columnPadding": 56, "gridAlign": "all",
                              "encode": {
                                "symbols": {"update": {
                                  "shape": {"signal": "datum.value === '1. rev.' ? 'M-0.328,0L-0.373,0.168M-0.373,0.168L-0.496,0.291M-0.496,0.291L-0.664,0.336M-0.664,0.336L-0.832,0.291M-0.832,0.291L-0.955,0.168M-0.955,0.168L-1,0M-1,0L-0.955,-0.168M-0.955,-0.168L-0.832,-0.291M-0.832,-0.291L-0.664,-0.336M-0.664,-0.336L-0.496,-0.291M-0.496,-0.291L-0.373,-0.168M-0.373,-0.168L-0.328,0M-0.328,0L2,0' : 'M-0.75,-0.68L2.07,-0.68L2.07,0.68L-0.75,0.68Z'"},
                                  "strokeWidth": {"signal": "datum.value === '1. rev.' ? 2 : 0"},
                                  "size": {"value": 484}, "opacity": {"value": 1}}},
                                "labels": {"update": {"fill": {"signal": "datum.value === '(1)' ? '#92cd98' : datum.value === '(2)' ? '#00824b' : '#1c9a4c'"}}}}}}}},
      {"data": {"name": "hl"}, "transform": [{"filter": "datum.k === '1. rev.'"}], "mark": {"type": "rect", "filled": false, "strokeWidth": 1.5},
       "encoding": {"x": {"field": "x0", "type": "quantitative"}, "x2": {"field": "x1"}, "color": {"field": "k", "type": "nominal"}}},
      {"data": {"name": "bl"}, "mark": {"type": "line", "strokeWidth": 2},
       "encoding": {"x": {"field": "m", "type": "quantitative"}, "y": {"field": "v", "type": "quantitative"}, "color": {"datum": "1. rev."}}},
      {"data": {"name": "bl"}, "mark": {"type": "point", "filled": true, "fill": "#ffffff", "stroke": "#1c9a4c", "strokeWidth": 2, "size": 58, "opacity": 1},
       "encoding": {"x": {"field": "m", "type": "quantitative"}, "y": {"field": "v", "type": "quantitative"}}}
    ]
  },
  {
    "width": 573, "height": 217,
    "data": {"name": "rb"},
    "layer": [
      {"mark": {"type": "line", "strokeWidth": 2},
       "encoding": {
         "x": {"field": "p", "type": "quantitative", "scale": {"domain": [0.5, 41.5], "nice": false, "zero": false},
               "axis": {"values": [1,2,3,4,5,6,7,8,9,10,11,12,13,14,15,16,17,18,19,20,21,22,23,24,25,26,27,28,29,30,31,32,33,34,35,36,37,38,39,40,41],
                        "tickCount": 100, "format": "d", "title": null, "grid": true, "ticks": false, "tickSize": 0, "labelFontSize": 12,
                        "labelPadding": {"condition": {"test": "datum.value % 2 === 0", "value": 17}, "value": 3},
                        "labelOverlap": false, "labelFlush": false, "domain": false}},
         "y": {"field": "b", "type": "quantitative", "scale": {"domain": [0, 1.2], "nice": false, "zero": false},
               "axis": {"values": [0, 0.2, 0.4, 0.6, 0.8, 1, 1.2], "tickCount": 100, "format": ".2f", "title": null, "grid": true, "ticks": false, "tickSize": 0, "labelPadding": 9, "labelOverlap": false, "domain": true}},
         "color": {"datum": "(2)", "scale": {"domain": ["(1)", "(2)", "Tot."], "range": ["#d6bd2d", "#a6b8b6", "#233a3c"]},
                   "legend": {"orient": "none", "legendX": 24, "legendY": -22, "direction": "horizontal", "title": null, "symbolSize": 484, "labelOffset": 25, "columnPadding": 56, "gridAlign": "all",
                              "encode": {
                                "symbols": {"update": {
                                  "shape": {"value": "M-0.328,0L-0.373,0.168L-0.496,0.291L-0.664,0.336L-0.832,0.291L-0.955,0.168L-1,0L-0.955,-0.168L-0.832,-0.291L-0.664,-0.336L-0.496,-0.291L-0.373,-0.168ZM-0.328,0L2,0"},
                                  "strokeWidth": {"value": 2}, "size": {"value": 484}, "opacity": {"value": 1}}},
                                "labels": {"update": {"fill": {"signal": "datum.value === '(1)' ? '#d6bd2d' : datum.value === '(2)' ? '#a6b8b6' : '#333333'"}}}}}}}},
      {"mark": {"type": "point", "filled": false, "strokeWidth": 2, "size": 60, "opacity": 1},
       "encoding": {"x": {"field": "p", "type": "quantitative"}, "y": {"field": "b", "type": "quantitative"}, "color": {"datum": "(2)"}}},
      {"mark": {"type": "line", "strokeWidth": 2},
       "encoding": {"x": {"field": "p", "type": "quantitative"}, "y": {"field": "a", "type": "quantitative"}, "color": {"datum": "(1)"}}},
      {"mark": {"type": "point", "filled": false, "strokeWidth": 2, "size": 60, "opacity": 1},
       "encoding": {"x": {"field": "p", "type": "quantitative"}, "y": {"field": "a", "type": "quantitative"}, "color": {"datum": "(1)"}}},
      {"mark": {"type": "line", "strokeWidth": 2},
       "encoding": {"x": {"field": "p", "type": "quantitative"}, "y": {"field": "tot", "type": "quantitative"}, "color": {"datum": "Tot."}}},
      {"mark": {"type": "point", "filled": false, "strokeWidth": 2, "size": 60, "opacity": 1},
       "encoding": {"x": {"field": "p", "type": "quantitative"}, "y": {"field": "tot", "type": "quantitative"}, "color": {"datum": "Tot."}}}
    ]
  }
]
}
